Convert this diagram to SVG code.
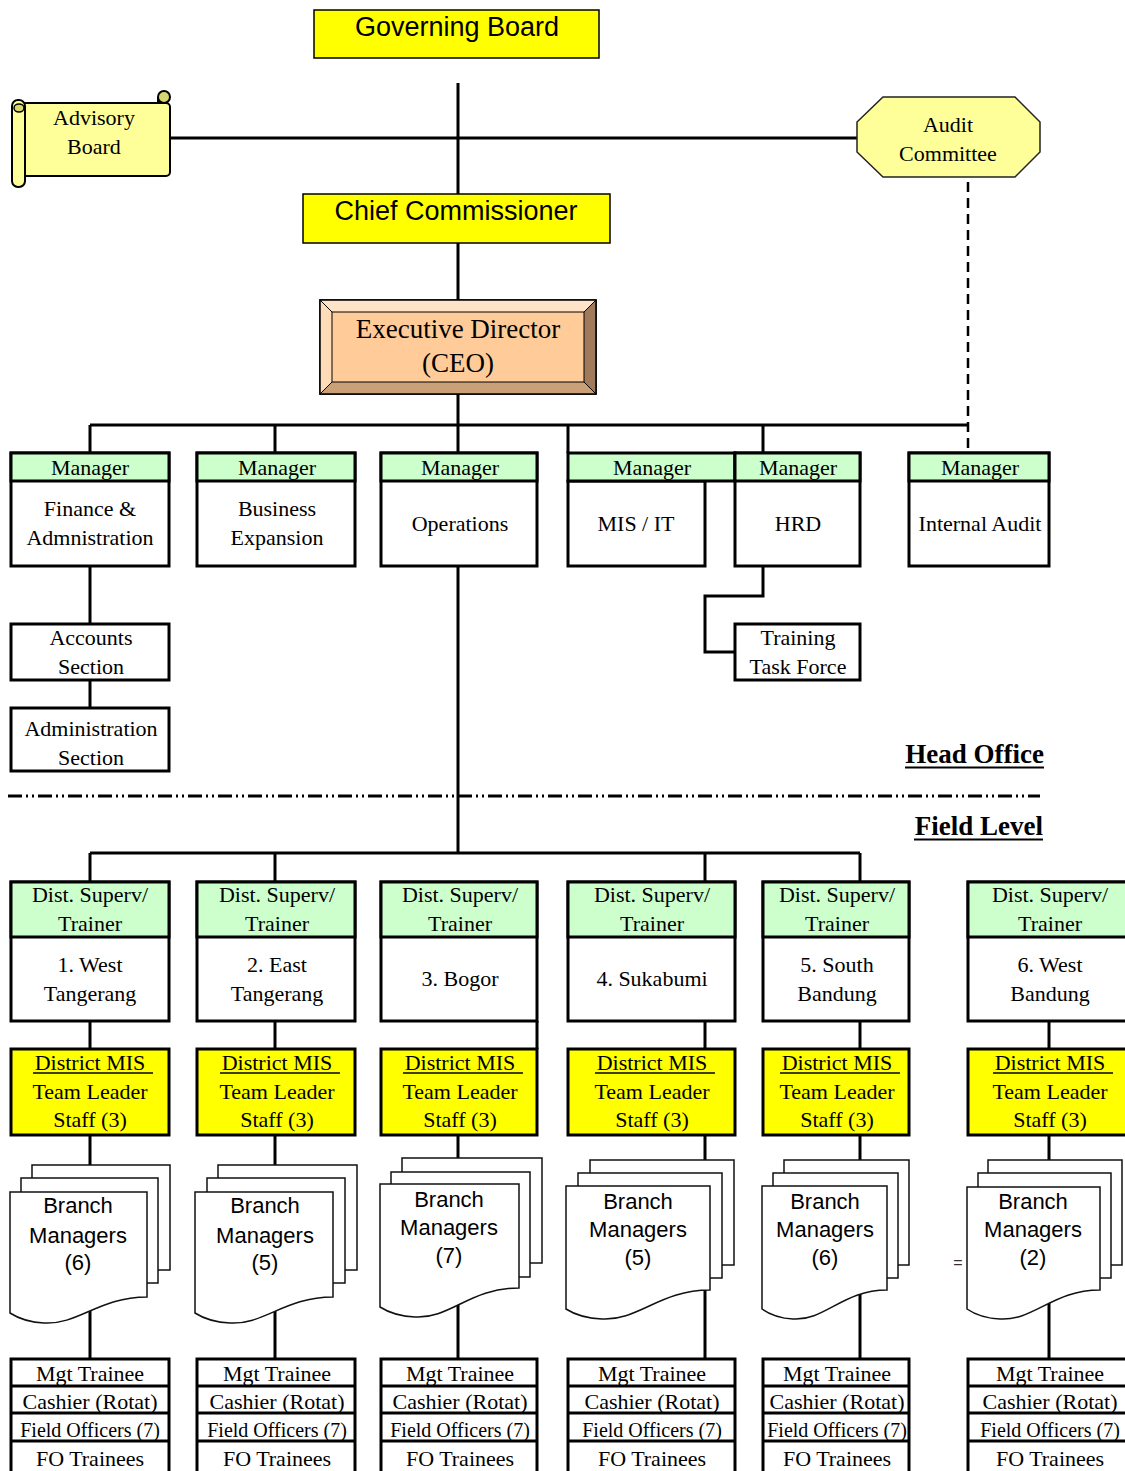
<svg xmlns="http://www.w3.org/2000/svg" width="1125" height="1471" viewBox="0 0 1125 1471">
<style>
.t{font-family:"Liberation Serif","Times New Roman",serif;font-size:22px;fill:#000;text-anchor:middle}
.s{font-size:20px}
.a{font-family:"Liberation Sans",Arial,sans-serif;font-size:27px;fill:#000;text-anchor:middle}
.b{font-family:"Liberation Sans",Arial,sans-serif;font-size:22px;fill:#000;text-anchor:middle}
.h{font-family:"Liberation Serif","Times New Roman",serif;font-size:27px;font-weight:bold;fill:#000;text-anchor:end}
.box{fill:#fff;stroke:#000;stroke-width:3}
.hdr{fill:#ccffcc;stroke:#000;stroke-width:3}
.yel{fill:#ffff00;stroke:#000;stroke-width:3}
.doc{fill:#fff;stroke:#111;stroke-width:1.5}
.ln{fill:none;stroke:#000;stroke-width:3}
.ul{stroke:#000;stroke-width:1.5}
</style>
<rect width="1125" height="1471" fill="#fff"/>

<g id="connectors">
<path class="ln" d="M458 83V425M170 138H857M90 425H968M90 425V453M275 425V453M568 425V453M763 425V453"/>
<path d="M968 182V455" fill="none" stroke="#000" stroke-width="2.5" stroke-dasharray="10 6"/>
<path class="ln" d="M90 566V624M90 680V708M763 566V596H705V652H735"/>
<path class="ln" d="M458 425V853M90 853H860M90 853V882M275 853V882M705 853V882M860 853V882"/>
<path class="ln" d="M90 1021V1049M275 1021V1049M537 1021V1049M705 1021V1049M860 1021V1049M1049 1021V1049"/>
<path class="ln" d="M90 1135V1359M275 1135V1359M458 1135V1359M705 1135V1359M860 1135V1359M1049 1135V1359"/>
</g>

<path d="M8 796H1040" fill="none" stroke="#000" stroke-width="3" stroke-dasharray="14 4 2 4 2 4"/>

<g id="governing-board">
<rect x="314" y="10" width="285" height="48" fill="#ffff00" stroke="#000" stroke-width="1.5"/>
<text class="a" x="457" y="36">Governing Board</text>
</g>

<g id="advisory-board">
<rect x="22" y="103" width="148" height="73" rx="4" fill="#ffff99" stroke="#000" stroke-width="2"/>
<circle cx="164" cy="97" r="6" fill="#d8d870" stroke="#000" stroke-width="2"/>
<path d="M158 103V97" stroke="#000" stroke-width="2"/>
<rect x="12" y="100" width="13" height="87" rx="6" fill="#ffff99" stroke="#000" stroke-width="2"/>
<ellipse cx="19" cy="108" rx="5" ry="4" fill="#d8d870" stroke="#000" stroke-width="1.5"/>
<text class="t" x="94" y="125">Advisory</text>
<text class="t" x="94" y="154">Board</text>
</g>

<g id="audit-committee">
<polygon points="883,97 1015,97 1040,122 1040,152 1015,177 883,177 857,152 857,122" fill="#ffff99" stroke="#222" stroke-width="1.5"/>
<text class="t" x="948" y="132">Audit</text>
<text class="t" x="948" y="161">Committee</text>
</g>

<g id="chief-commissioner">
<rect x="303" y="194" width="307" height="49" fill="#ffff00" stroke="#000" stroke-width="1.5"/>
<text class="a" x="456" y="220">Chief Commissioner</text>
</g>

<g id="executive-director">
<rect x="320" y="300" width="276" height="94" fill="#ffcc99" stroke="#000" stroke-width="1.5"/>
<polygon points="320,300 596,300 584,312 332,312" fill="#ffe3c6"/>
<polygon points="320,300 332,312 332,382 320,394" fill="#ffdcb8"/>
<polygon points="596,300 596,394 584,382 584,312" fill="#a07a5a"/>
<polygon points="320,394 596,394 584,382 332,382" fill="#c9a078"/>
<rect x="320" y="300" width="276" height="94" fill="none" stroke="#000" stroke-width="1.5"/>
<rect x="332" y="312" width="252" height="70" fill="none" stroke="#000" stroke-width="1"/>
<path d="M320 300L332 312M596 300L584 312M320 394L332 382M596 394L584 382" stroke="#000" stroke-width="1"/>
<text class="t" x="458" y="338" style="font-size:27px">Executive Director</text>
<text class="t" x="458" y="372" style="font-size:27px">(CEO)</text>
</g>

<g id="mgr-finance">
<rect class="box" x="11" y="453" width="158" height="113"/>
<rect class="hdr" x="11" y="453" width="158" height="28"/>
<text class="t" x="90" y="475">Manager</text>
<text class="t" x="90" y="516">Finance &amp;</text>
<text class="t" x="90" y="545">Admnistration</text>
</g>
<g id="mgr-business">
<rect class="box" x="197" y="453" width="158" height="113"/>
<rect class="hdr" x="197" y="453" width="158" height="28"/>
<text class="t" x="277" y="475">Manager</text>
<text class="t" x="277" y="516">Business</text>
<text class="t" x="277" y="545">Expansion</text>
</g>
<g id="mgr-operations">
<rect class="box" x="381" y="453" width="156" height="113"/>
<rect class="hdr" x="381" y="453" width="156" height="28"/>
<text class="t" x="460" y="475">Manager</text>
<text class="t" x="460" y="531">Operations</text>
</g>
<g id="mgr-mis">
<rect class="box" x="568" y="481" width="137" height="85"/>
<rect class="hdr" x="568" y="453" width="167" height="28"/>
<text class="t" x="652" y="475">Manager</text>
<text class="t" x="636" y="531">MIS / IT</text>
</g>
<g id="mgr-hrd">
<rect class="box" x="735" y="453" width="125" height="113"/>
<rect class="hdr" x="735" y="453" width="125" height="28"/>
<text class="t" x="798" y="475">Manager</text>
<text class="t" x="798" y="531">HRD</text>
</g>
<g id="mgr-audit">
<rect class="box" x="909" y="453" width="140" height="113"/>
<rect class="hdr" x="909" y="453" width="140" height="28"/>
<text class="t" x="980" y="475">Manager</text>
<text class="t" x="980" y="531">Internal Audit</text>
</g>

<g id="accounts-section">
<rect class="box" x="11" y="624" width="158" height="56"/>
<text class="t" x="91" y="645">Accounts</text>
<text class="t" x="91" y="674">Section</text>
</g>
<g id="administration-section">
<rect class="box" x="11" y="708" width="158" height="63"/>
<text class="t" x="91" y="736">Administration</text>
<text class="t" x="91" y="765">Section</text>
</g>
<g id="training-task-force">
<rect class="box" x="735" y="624" width="125" height="56"/>
<text class="t" x="798" y="645">Training</text>
<text class="t" x="798" y="674">Task Force</text>
</g>

<g id="head-office-label">
<text class="h" x="1044" y="763">Head Office</text>
<path d="M905 767.5H1044" stroke="#000" stroke-width="2"/>
</g>
<g id="field-level-label">
<text class="h" x="1043" y="835">Field Level</text>
<path d="M914 839.5H1043" stroke="#000" stroke-width="2"/>
</g>

<!-- District supervisors -->
<g id="dist-1">
<rect class="box" x="11" y="882" width="158" height="139"/>
<rect class="hdr" x="11" y="882" width="158" height="55"/>
<text class="t" x="90" y="902">Dist. Superv/</text>
<text class="t" x="90" y="931">Trainer</text>
<text class="t" x="90" y="972">1. West</text>
<text class="t" x="90" y="1001">Tangerang</text>
</g>
<g id="dist-2">
<rect class="box" x="197" y="882" width="158" height="139"/>
<rect class="hdr" x="197" y="882" width="158" height="55"/>
<text class="t" x="277" y="902">Dist. Superv/</text>
<text class="t" x="277" y="931">Trainer</text>
<text class="t" x="277" y="972">2. East</text>
<text class="t" x="277" y="1001">Tangerang</text>
</g>
<g id="dist-3">
<rect class="box" x="381" y="882" width="156" height="139"/>
<rect class="hdr" x="381" y="882" width="156" height="55"/>
<text class="t" x="460" y="902">Dist. Superv/</text>
<text class="t" x="460" y="931">Trainer</text>
<text class="t" x="460" y="986">3. Bogor</text>
</g>
<g id="dist-4">
<rect class="box" x="568" y="882" width="167" height="139"/>
<rect class="hdr" x="568" y="882" width="167" height="55"/>
<text class="t" x="652" y="902">Dist. Superv/</text>
<text class="t" x="652" y="931">Trainer</text>
<text class="t" x="652" y="986">4. Sukabumi</text>
</g>
<g id="dist-5">
<rect class="box" x="763" y="882" width="146" height="139"/>
<rect class="hdr" x="763" y="882" width="146" height="55"/>
<text class="t" x="837" y="902">Dist. Superv/</text>
<text class="t" x="837" y="931">Trainer</text>
<text class="t" x="837" y="972">5. South</text>
<text class="t" x="837" y="1001">Bandung</text>
</g>
<g id="dist-6">
<rect class="box" x="968" y="882" width="164" height="139"/>
<rect class="hdr" x="968" y="882" width="164" height="55"/>
<text class="t" x="1050" y="902">Dist. Superv/</text>
<text class="t" x="1050" y="931">Trainer</text>
<text class="t" x="1050" y="972">6. West</text>
<text class="t" x="1050" y="1001">Bandung</text>
</g>

<!-- District MIS -->
<g id="mis-1">
<rect class="yel" x="11" y="1049" width="158" height="86"/>
<text class="t" x="90" y="1070">District MIS</text><path class="ul" d="M33 1073H153"/>
<text class="t" x="90" y="1099">Team Leader</text>
<text class="t" x="90" y="1127">Staff (3)</text>
</g>
<g id="mis-2">
<rect class="yel" x="197" y="1049" width="158" height="86"/>
<text class="t" x="277" y="1070">District MIS</text><path class="ul" d="M220 1073H340"/>
<text class="t" x="277" y="1099">Team Leader</text>
<text class="t" x="277" y="1127">Staff (3)</text>
</g>
<g id="mis-3">
<rect class="yel" x="381" y="1049" width="156" height="86"/>
<text class="t" x="460" y="1070">District MIS</text><path class="ul" d="M403 1073H523"/>
<text class="t" x="460" y="1099">Team Leader</text>
<text class="t" x="460" y="1127">Staff (3)</text>
</g>
<g id="mis-4">
<rect class="yel" x="568" y="1049" width="167" height="86"/>
<text class="t" x="652" y="1070">District MIS</text><path class="ul" d="M595 1073H715"/>
<text class="t" x="652" y="1099">Team Leader</text>
<text class="t" x="652" y="1127">Staff (3)</text>
</g>
<g id="mis-5">
<rect class="yel" x="763" y="1049" width="146" height="86"/>
<text class="t" x="837" y="1070">District MIS</text><path class="ul" d="M780 1073H900"/>
<text class="t" x="837" y="1099">Team Leader</text>
<text class="t" x="837" y="1127">Staff (3)</text>
</g>
<g id="mis-6">
<rect class="yel" x="968" y="1049" width="164" height="86"/>
<text class="t" x="1050" y="1070">District MIS</text><path class="ul" d="M993 1073H1113"/>
<text class="t" x="1050" y="1099">Team Leader</text>
<text class="t" x="1050" y="1127">Staff (3)</text>
</g>

<!-- Branch managers -->
<g id="bm-1">
<rect class="doc" x="32" y="1165" width="138" height="105"/>
<rect class="doc" x="21" y="1178" width="137" height="105"/>
<path class="doc" d="M10 1192H147V1297C99 1297 78.5 1325 44 1323Q24 1322 10 1313Z"/>
<text class="b" x="78" y="1213">Branch</text>
<text class="b" x="78" y="1243">Managers</text>
<text class="b" x="78" y="1270">(6)</text>
</g>
<g id="bm-2">
<rect class="doc" x="218" y="1165" width="139" height="105"/>
<rect class="doc" x="207" y="1178" width="138" height="105"/>
<path class="doc" d="M195 1192H333V1297C285 1297 264 1325 230 1323Q209 1322 195 1313Z"/>
<text class="b" x="265" y="1213">Branch</text>
<text class="b" x="265" y="1243">Managers</text>
<text class="b" x="265" y="1270">(5)</text>
</g>
<g id="bm-3">
<rect class="doc" x="402" y="1158" width="140" height="105"/>
<rect class="doc" x="391" y="1172" width="139" height="105"/>
<path class="doc" d="M380 1184H519V1288C470 1288 450 1319 415 1317Q394 1316 380 1307Z"/>
<text class="b" x="449" y="1207">Branch</text>
<text class="b" x="449" y="1235">Managers</text>
<text class="b" x="449" y="1263">(7)</text>
</g>
<g id="bm-4">
<rect class="doc" x="590" y="1160" width="144" height="105"/>
<rect class="doc" x="578" y="1173" width="144" height="105"/>
<path class="doc" d="M566 1186H710V1290C660 1290 638 1321 602 1319Q580 1318 566 1309Z"/>
<text class="b" x="638" y="1209">Branch</text>
<text class="b" x="638" y="1237">Managers</text>
<text class="b" x="638" y="1265">(5)</text>
</g>
<g id="bm-5">
<rect class="doc" x="784" y="1160" width="125" height="105"/>
<rect class="doc" x="773" y="1173" width="125" height="105"/>
<path class="doc" d="M762 1186H887V1290C843 1290 825 1321 793 1319Q775 1318 762 1309Z"/>
<text class="b" x="825" y="1209">Branch</text>
<text class="b" x="825" y="1237">Managers</text>
<text class="b" x="825" y="1265">(6)</text>
</g>
<g id="bm-6">
<rect class="doc" x="988" y="1160" width="134" height="105"/>
<rect class="doc" x="978" y="1173" width="133" height="105"/>
<path class="doc" d="M967 1187H1100V1290C1053 1290 1034 1321 1000 1319Q980 1318 967 1309Z"/>
<text class="b" x="1033" y="1209">Branch</text>
<text class="b" x="1033" y="1237">Managers</text>
<text class="b" x="1033" y="1265">(2)</text>
<text x="958" y="1268" style="font-family:'Liberation Sans',Arial,sans-serif;font-size:16px;fill:#333;text-anchor:middle">=</text>
</g>

<!-- Bottom staff boxes -->
<g id="staff-1">
<rect class="box" x="11" y="1359" width="158" height="120"/>
<path class="ln" d="M11 1386H169M11 1413H169M11 1441H169"/>
<text class="t" x="90" y="1381">Mgt Trainee</text>
<text class="t" x="90" y="1409">Cashier (Rotat)</text>
<text class="t s" x="90" y="1437">Field Officers (7)</text>
<text class="t" x="90" y="1466">FO Trainees</text>
</g>
<g id="staff-2">
<rect class="box" x="197" y="1359" width="158" height="120"/>
<path class="ln" d="M197 1386H355M197 1413H355M197 1441H355"/>
<text class="t" x="277" y="1381">Mgt Trainee</text>
<text class="t" x="277" y="1409">Cashier (Rotat)</text>
<text class="t s" x="277" y="1437">Field Officers (7)</text>
<text class="t" x="277" y="1466">FO Trainees</text>
</g>
<g id="staff-3">
<rect class="box" x="381" y="1359" width="156" height="120"/>
<path class="ln" d="M381 1386H537M381 1413H537M381 1441H537"/>
<text class="t" x="460" y="1381">Mgt Trainee</text>
<text class="t" x="460" y="1409">Cashier (Rotat)</text>
<text class="t s" x="460" y="1437">Field Officers (7)</text>
<text class="t" x="460" y="1466">FO Trainees</text>
</g>
<g id="staff-4">
<rect class="box" x="568" y="1359" width="167" height="120"/>
<path class="ln" d="M568 1386H735M568 1413H735M568 1441H735"/>
<text class="t" x="652" y="1381">Mgt Trainee</text>
<text class="t" x="652" y="1409">Cashier (Rotat)</text>
<text class="t s" x="652" y="1437">Field Officers (7)</text>
<text class="t" x="652" y="1466">FO Trainees</text>
</g>
<g id="staff-5">
<rect class="box" x="763" y="1359" width="146" height="120"/>
<path class="ln" d="M763 1386H909M763 1413H909M763 1441H909"/>
<text class="t" x="837" y="1381">Mgt Trainee</text>
<text class="t" x="837" y="1409">Cashier (Rotat)</text>
<text class="t s" x="837" y="1437">Field Officers (7)</text>
<text class="t" x="837" y="1466">FO Trainees</text>
</g>
<g id="staff-6">
<rect class="box" x="968" y="1359" width="164" height="120"/>
<path class="ln" d="M968 1386H1132M968 1413H1132M968 1441H1132"/>
<text class="t" x="1050" y="1381">Mgt Trainee</text>
<text class="t" x="1050" y="1409">Cashier (Rotat)</text>
<text class="t s" x="1050" y="1437">Field Officers (7)</text>
<text class="t" x="1050" y="1466">FO Trainees</text>
</g>
</svg>
